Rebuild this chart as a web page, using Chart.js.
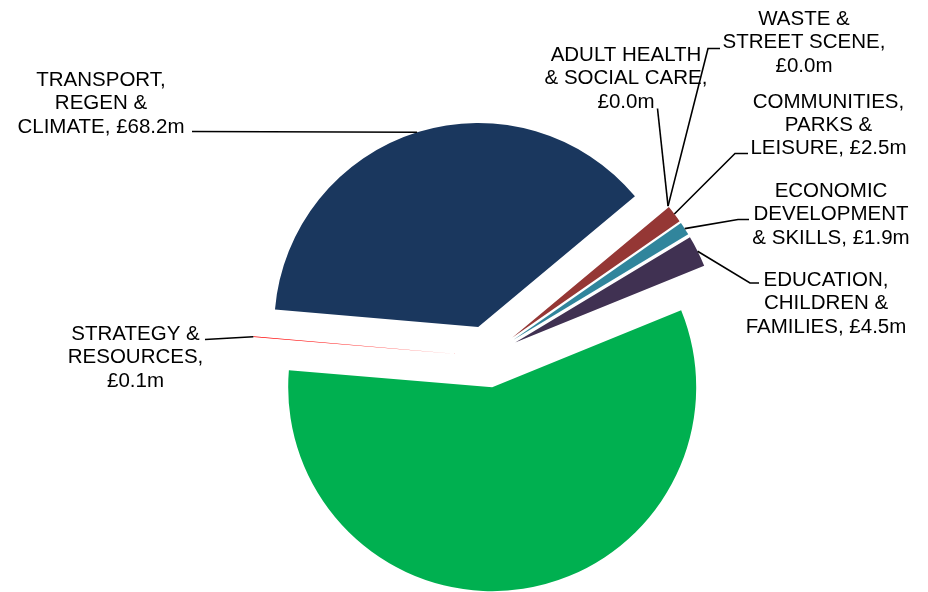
<!DOCTYPE html>
<html>
<head>
<meta charset="utf-8">
<title>Spend by directorate</title>
<script src="https://cdn.jsdelivr.net/npm/chart.js@4/dist/chart.umd.min.js"></script>
<style>
  body { margin: 0; background: #fff; }
  #wrap { width: 928px; height: 592px; position: relative; }
</style>
</head>
<body>
<div id="wrap"><canvas id="pie-chart"></canvas></div>
<script>
// slices in clockwise order, starting just right of the big navy slice
var categories = [
    'ADULT HEALTH & SOCIAL CARE',
    'WASTE & STREET SCENE',
    'COMMUNITIES, PARKS & LEISURE',
    'ECONOMIC DEVELOPMENT & SKILLS',
    'EDUCATION, CHILDREN & FAMILIES',
    '',
    'STRATEGY & RESOURCES',
    'TRANSPORT, REGEN & CLIMATE'
];
var values = [0.0, 0.0, 2.5, 1.9, 4.5, 104.3, 0.1, 68.2];
var colours = ['#953735', '#7F7F7F', '#953735', '#31859C', '#403152', '#00B050', '#FF0000', '#1A375E'];

// how the name of each category is broken over lines (value goes on the last one)
var nameLines = [
    ['ADULT HEALTH', '& SOCIAL CARE,', ''],
    ['WASTE &', 'STREET SCENE,', ''],
    ['COMMUNITIES,', 'PARKS &', 'LEISURE,'],
    ['ECONOMIC', 'DEVELOPMENT', '& SKILLS,'],
    ['EDUCATION,', 'CHILDREN &', 'FAMILIES,'],
    null,
    ['STRATEGY &', 'RESOURCES,', ''],
    ['TRANSPORT,', 'REGEN &', 'CLIMATE,']
];

// where each label sits: centre x, first baseline, then the leader line anchor and elbow
var labelPlaces = [
    { x: 626, y: 61, anchor: [657.5, 108.5], elbow: null },
    { x: 804, y: 25, anchor: [720, 48.5], elbow: [708, 48.5] },
    { x: 828.5, y: 107.5, anchor: [748, 153.5], elbow: [735, 153.5] },
    { x: 831, y: 197, anchor: [749, 219.5], elbow: [738, 219.5] },
    { x: 826, y: 286, anchor: [759, 283], elbow: [750, 283] },
    null,
    { x: 135.5, y: 340, anchor: [205, 339.5], elbow: null },
    { x: 101, y: 86, anchor: [192, 131.5], elbow: null }
];

var EXPLODE = 31;
var FONT = '20.5px "Liberation Sans", Arial, sans-serif';

// pull every slice out from the centre along its own bisector
var explodePlugin = {
    id: 'explode',
    beforeDatasetsDraw: function (chart) {
        var area = chart.chartArea;
        var cx = (area.left + area.right) / 2;
        var cy = (area.top + area.bottom) / 2;
        chart.getDatasetMeta(0).data.forEach(function (arc) {
            var mid = (arc.startAngle + arc.endAngle) / 2;
            arc.x = cx + Math.cos(mid) * EXPLODE;
            arc.y = cy + Math.sin(mid) * EXPLODE;
        });
    }
};

var labelPlugin = {
    id: 'sliceLabels',
    afterDatasetsDraw: function (chart) {
        var ctx = chart.ctx;
        var arcs = chart.getDatasetMeta(0).data;
        ctx.save();
        for (var i = 0; i < arcs.length; i++) {
            if (!nameLines[i]) continue;
            var arc = arcs[i];
            var place = labelPlaces[i];
            var mid = (arc.startAngle + arc.endAngle) / 2;
            var px = arc.x + Math.cos(mid) * arc.outerRadius;
            var py = arc.y + Math.sin(mid) * arc.outerRadius;

            ctx.strokeStyle = '#000';
            ctx.lineWidth = 1.6;
            ctx.beginPath();
            ctx.moveTo(place.anchor[0], place.anchor[1]);
            if (place.elbow) ctx.lineTo(place.elbow[0], place.elbow[1]);
            ctx.lineTo(px, py);
            ctx.stroke();

            var lines = nameLines[i].slice();
            var last = lines.pop();
            lines.push((last ? last + ' ' : '') + '£' + values[i].toFixed(1) + 'm');
            ctx.fillStyle = '#000';
            ctx.font = FONT;
            ctx.textAlign = 'center';
            ctx.textBaseline = 'alphabetic';
            for (var j = 0; j < lines.length; j++) {
                ctx.fillText(lines[j], place.x, place.y + j * 23.3);
            }
        }
        ctx.restore();
    }
};

var ctx = document.getElementById('pie-chart').getContext('2d');
var chart = new Chart(ctx, {
    type: 'pie',
    data: {
        labels: categories,
        datasets: [{
            data: values,
            backgroundColor: colours,
            borderWidth: 0,
            radius: 204
        }]
    },
    options: {
        responsive: true,
        maintainAspectRatio: false,
        animation: false,
        rotation: 50.2,
        layout: { padding: { left: 47, right: 0, top: 121, bottom: 0 } },
        plugins: {
            legend: { display: false },
            tooltip: { enabled: false }
        }
    },
    plugins: [explodePlugin, labelPlugin]
});
</script>
</body>
</html>
